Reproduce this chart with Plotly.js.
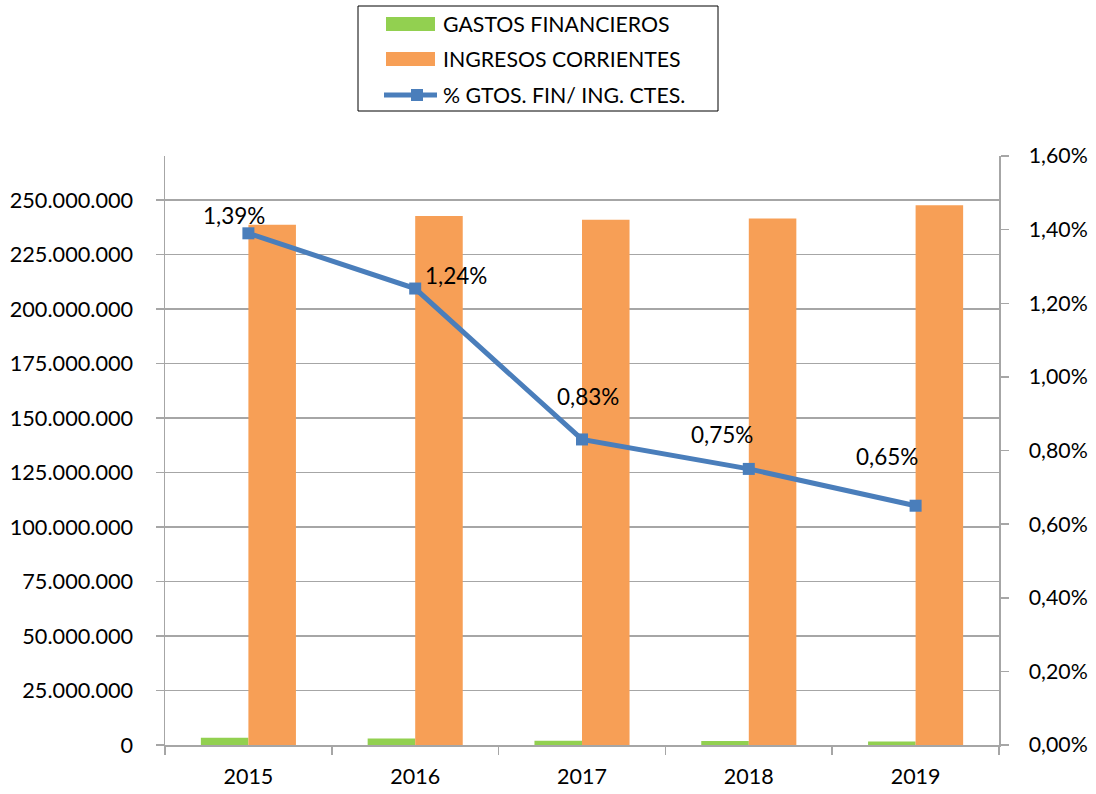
<!DOCTYPE html>
<html>
<head>
<meta charset="utf-8">
<script src="https://cdn.plot.ly/plotly-3.0.1.min.js"></script>
<style>html,body{margin:0;padding:0;background:#fff;}#chart{width:1096px;height:794px;}</style>
</head>
<body>
<div id="chart"></div>
<script>
// ---- data ----
const years = ['2015', '2016', '2017', '2018', '2019'];
const gastosFinancieros = [3320000, 3010000, 2000000, 1810000, 1610000];
const ingresosCorrientes = [238800000, 242800000, 241000000, 241600000, 247700000];
const pctGastosIngresos = [0.0139, 0.0124, 0.0083, 0.0075, 0.0065];
const seriesNames = ['GASTOS FINANCIEROS', 'INGRESOS CORRIENTES', '% GTOS. FIN/ ING. CTES.'];

// ---- styles ----
const GREEN = '#92d050', ORANGE = '#f79f56', BLUE = '#4a7ebb', GRID = '#a6a6a6';
const FONT = 'Lato, "Liberation Sans", sans-serif';
const labelShift = [[-14, 18], [41, 13], [6, 43], [-27, 34], [-29, 49]];

const fmtPct = v => (v * 100).toFixed(2).replace('.', ',') + '%';

const traces = [
  { type: 'bar', name: seriesNames[0], x: years, y: gastosFinancieros,
    marker: { color: GREEN }, hoverinfo: 'skip' },
  { type: 'bar', name: seriesNames[1], x: years, y: ingresosCorrientes,
    marker: { color: ORANGE }, hoverinfo: 'skip' },
  { type: 'scatter', mode: 'lines+markers', name: seriesNames[2], x: years, y: pctGastosIngresos,
    yaxis: 'y2', line: { color: BLUE, width: 5 },
    marker: { symbol: 'square', size: 12, color: BLUE }, hoverinfo: 'skip' }
];

// plot area in pixels: x 165..999, y 156..745
const L = 165, R = 999, T = 156, B = 745;
const px = v => (v - L) / (R - L);
const py = v => (B - v) / (B - T);

// category axes: annotations positioned by category index
const annotations = years.map((yr, i) => ({
  xref: 'x', yref: 'y2', x: i, y: pctGastosIngresos[i], text: fmtPct(pctGastosIngresos[i]),
  showarrow: false, xshift: labelShift[i][0], yshift: labelShift[i][1],
  font: { family: FONT, size: 22.5, color: '#000' }
}));

// manual legend
const rows = [24, 59, 95];
const shapes = [
  { type: 'rect', xref: 'paper', yref: 'paper', x0: px(358), x1: px(718), y0: py(6), y1: py(111),
    line: { color: '#000', width: 1 }, fillcolor: 'rgba(0,0,0,0)' },
  { type: 'rect', xref: 'paper', yref: 'paper', x0: px(386), x1: px(435), y0: py(rows[0] - 7), y1: py(rows[0] + 7),
    line: { width: 0 }, fillcolor: GREEN },
  { type: 'rect', xref: 'paper', yref: 'paper', x0: px(386), x1: px(435), y0: py(rows[1] - 7), y1: py(rows[1] + 7),
    line: { width: 0 }, fillcolor: ORANGE },
  { type: 'line', xref: 'paper', yref: 'paper', x0: px(384), x1: px(437), y0: py(rows[2]), y1: py(rows[2]),
    line: { color: BLUE, width: 5 } },
  { type: 'rect', xref: 'paper', yref: 'paper', x0: px(411), x1: px(423), y0: py(rows[2] - 6), y1: py(rows[2] + 6),
    line: { width: 0 }, fillcolor: BLUE }
];
seriesNames.forEach((n, i) => annotations.push({
  xref: 'paper', yref: 'paper', x: px(441), y: py(rows[i]), xanchor: 'left', yanchor: 'middle',
  text: n, showarrow: false, font: { family: FONT, size: 21.3, color: '#000' }
}));

const layout = {
  width: 1096, height: 794,
  margin: { l: L, r: 1096 - R, t: T, b: 794 - B, autoexpand: false },
  paper_bgcolor: '#fff', plot_bgcolor: '#fff',
  separators: ',.',
  font: { family: FONT, size: 21, color: '#000' },
  showlegend: false,
  barmode: 'group', bargap: 0.43, bargroupgap: 0,
  xaxis: {
    type: 'category', range: [-0.5, years.length - 0.5], autorange: false,
    showline: true, linecolor: GRID, linewidth: 1.5,
    ticks: 'outside', tickson: 'boundaries', ticklen: 8, tickcolor: GRID, tickwidth: 1.5,
    ticklabelstandoff: 12, tickangle: 0, showgrid: false, fixedrange: true,
    tickfont: { family: FONT, size: 21.5, color: '#000' }
  },
  yaxis: {
    range: [0, 270300000], dtick: 25000000, tickformat: ',.0f',
    showline: true, linecolor: GRID, linewidth: 1.5,
    ticks: 'outside', ticklen: 8, tickcolor: GRID, tickwidth: 1.5, ticklabelstandoff: 18,
    showgrid: true, gridcolor: GRID, gridwidth: 1.5, zeroline: false, fixedrange: true,
    tickfont: { family: FONT, size: 21.7, color: '#000' }
  },
  yaxis2: {
    overlaying: 'y', side: 'right', range: [0, 0.016], dtick: 0.002, tickformat: '.2%',
    showline: true, linecolor: GRID, linewidth: 1.5,
    ticks: 'outside', ticklen: 8, tickcolor: GRID, tickwidth: 1.5, ticklabelstandoff: 16,
    showgrid: false, zeroline: false, fixedrange: true,
    tickfont: { family: FONT, size: 21.3, color: '#000' }
  },
  annotations: annotations,
  shapes: shapes
};

Plotly.newPlot('chart', traces, layout, { staticPlot: true, displayModeBar: false });
</script>
</body>
</html>
